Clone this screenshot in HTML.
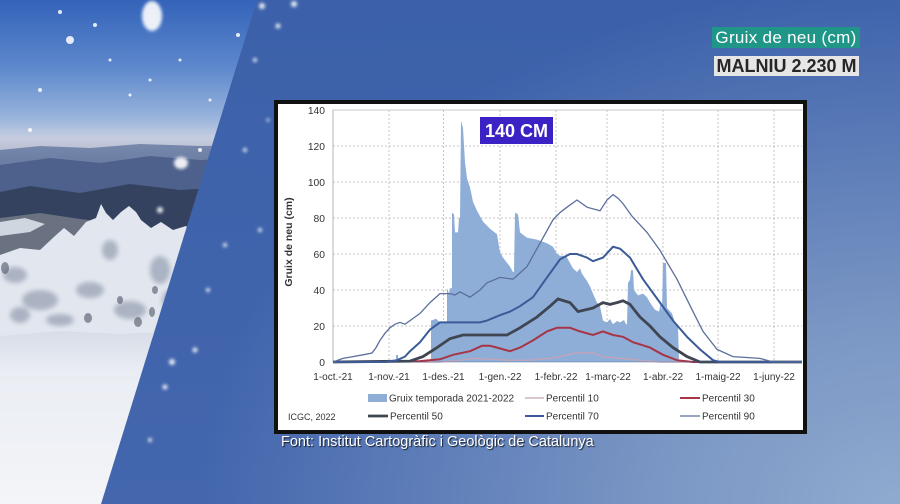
<!DOCTYPE html>
<html><head><meta charset="utf-8">
<style>
html,body{margin:0;padding:0;}
body{width:900px;height:504px;overflow:hidden;position:relative;font-family:"Liberation Sans",Arial,sans-serif;
background:radial-gradient(ellipse 700px 520px at 900px 504px,#8fabcf 0%,#7a96c4 35%,rgba(68,102,172,0) 100%),linear-gradient(180deg,#3c61aa 0%,#4366ad 100%);}
svg{position:absolute;left:0;top:0;}
.lab1{position:absolute;left:712px;top:27px;width:148px;height:21px;background:#1f9688;color:#fff;font-size:17px;line-height:21px;text-align:center;letter-spacing:0.3px;white-space:nowrap;}
.lab2{position:absolute;left:714px;top:56px;width:145px;height:20px;background:#e6e6e6;color:#262626;font-weight:bold;font-size:18px;line-height:20px;text-align:center;white-space:nowrap;}
.src{position:absolute;left:281px;top:434px;font-size:14.5px;line-height:17px;color:#fff;text-shadow:1px 1px 1px rgba(0,0,0,0.8);white-space:nowrap;}
</style></head><body>
<svg width="900" height="504" viewBox="0 0 900 504" xmlns="http://www.w3.org/2000/svg">
<defs>
<clipPath id="ph"><polygon points="0,0 257,0 101,504 0,504"/></clipPath>
<linearGradient id="sky" x1="0" y1="0" x2="0" y2="1">
<stop offset="0" stop-color="#3463b9"/><stop offset="0.45" stop-color="#5d88cc"/><stop offset="0.78" stop-color="#98b3dc"/><stop offset="0.92" stop-color="#c6cde0"/><stop offset="1" stop-color="#bcbfd2"/>
</linearGradient>
<linearGradient id="gnd" x1="0" y1="0" x2="0" y2="1">
<stop offset="0" stop-color="#d6dbe6"/><stop offset="0.25" stop-color="#eaedf3"/><stop offset="1" stop-color="#f3f5f8"/>
</linearGradient>
<linearGradient id="mt" x1="0" y1="0" x2="0" y2="1">
<stop offset="0" stop-color="#7788ad"/><stop offset="1" stop-color="#56698f"/>
</linearGradient>
<filter id="bl"><feGaussianBlur stdDeviation="1.5"/></filter>
<filter id="bl2"><feGaussianBlur stdDeviation="2.5"/></filter>
</defs>
<g clip-path="url(#ph)">
<rect x="0" y="0" width="260" height="150" fill="url(#sky)"/>
<polygon points="0,150 40,146 90,148 140,144 200,146 260,145 260,200 0,200" fill="url(#mt)"/>
<polygon points="0,165 50,158 100,163 150,156 200,160 260,158 260,230 0,230" fill="#4d618c"/>
<polygon points="0,192 30,186 80,193 130,184 180,190 230,187 260,192 260,245 0,245" fill="#34425f"/>
<polygon points="0,218 40,213 80,219 120,224 140,232 140,275 0,275" fill="#6a7282"/>
<polygon points="0,222 25,218 45,224 30,232 0,236" fill="#d0d6e0"/>
<polygon points="0,255 20,248 40,250 55,236 64,228 74,236 86,222 96,218 101,204 106,213 113,220 121,212 129,206 136,212 141,220 151,228 161,222 173,230 186,226 196,234 200,252 192,300 182,336 0,342" fill="#e2e7ef"/>
<g fill="#8e98ac" opacity="0.65" filter="url(#bl2)">
<ellipse cx="40" cy="300" rx="18" ry="10"/><ellipse cx="90" cy="290" rx="14" ry="8"/><ellipse cx="130" cy="310" rx="16" ry="9"/><ellipse cx="160" cy="270" rx="10" ry="14"/><ellipse cx="15" cy="275" rx="12" ry="8"/><ellipse cx="110" cy="250" rx="8" ry="10"/>
<ellipse cx="60" cy="320" rx="14" ry="6"/><ellipse cx="170" cy="300" rx="8" ry="10"/><ellipse cx="20" cy="315" rx="10" ry="8"/>
</g>
<g fill="#4e5566" opacity="0.6"><ellipse cx="88" cy="318" rx="4" ry="5"/><ellipse cx="138" cy="322" rx="4" ry="5"/><ellipse cx="152" cy="312" rx="3" ry="5"/><ellipse cx="5" cy="268" rx="4" ry="6"/><ellipse cx="155" cy="290" rx="3" ry="4"/><ellipse cx="120" cy="300" rx="3" ry="4"/></g>
<polygon points="0,336 60,331 120,334 200,330 260,328 260,504 0,504" fill="url(#gnd)"/>
<g fill="#fff" opacity="0.85">
<circle cx="60" cy="12" r="2"/><circle cx="95" cy="25" r="2"/><circle cx="110" cy="60" r="1.5"/><circle cx="40" cy="90" r="2"/><circle cx="130" cy="95" r="1.5"/><circle cx="30" cy="130" r="2"/><circle cx="200" cy="150" r="2"/><circle cx="210" cy="100" r="1.5"/><circle cx="238" cy="35" r="2"/><circle cx="150" cy="80" r="1.5"/><circle cx="180" cy="60" r="1.5"/><circle cx="70" cy="40" r="4"/>
</g>
</g>
<g fill="#fff" filter="url(#bl)" opacity="0.9">
<ellipse cx="152" cy="16" rx="10" ry="15"/><ellipse cx="181" cy="163" rx="7" ry="6"/><circle cx="160" cy="210" r="3"/>
<circle cx="294" cy="4" r="3"/><circle cx="278" cy="26" r="2.5"/><circle cx="262" cy="6" r="3"/>
<circle cx="255" cy="60" r="2"/><circle cx="245" cy="150" r="2"/><circle cx="260" cy="230" r="2"/><circle cx="208" cy="290" r="2"/>
<circle cx="195" cy="350" r="2.5"/><circle cx="172" cy="362" r="3"/><circle cx="165" cy="387" r="2.5"/><circle cx="150" cy="440" r="2"/><circle cx="290" cy="160" r="2"/><circle cx="268" cy="120" r="1.5"/><circle cx="225" cy="245" r="2"/>
</g>

<!-- panel -->
<rect x="276" y="102" width="529" height="330" fill="#fff" stroke="#111" stroke-width="4"/>

<!-- gridlines -->
<g stroke="#c4c4c4" stroke-width="1" stroke-dasharray="2,2" fill="none">
<line x1="333" y1="326" x2="802" y2="326"/><line x1="333" y1="290" x2="802" y2="290"/><line x1="333" y1="254" x2="802" y2="254"/>
<line x1="333" y1="218" x2="802" y2="218"/><line x1="333" y1="182" x2="802" y2="182"/><line x1="333" y1="146" x2="802" y2="146"/>
<line x1="389" y1="110" x2="389" y2="362"/><line x1="443.5" y1="110" x2="443.5" y2="362"/><line x1="500" y1="110" x2="500" y2="362"/>
<line x1="556" y1="110" x2="556" y2="362"/><line x1="607" y1="110" x2="607" y2="362"/><line x1="663" y1="110" x2="663" y2="362"/>
<line x1="718" y1="110" x2="718" y2="362"/><line x1="774" y1="110" x2="774" y2="362"/>
</g>
<line x1="333" y1="110" x2="802" y2="110" stroke="#c8c8c8" stroke-width="1"/>
<line x1="333" y1="110" x2="333" y2="362" stroke="#b5b5b5" stroke-width="1"/>

<!-- snow depth fill -->
<rect x="396" y="355" width="2" height="7" fill="#8eaed8"/>
<path fill="#8eaed8" d="M431,362 L431,320.6 L436,318.8 L440,322.4 L447,322.4 L447,288.2 L449,293.6 L450,288.2 L452,288.2 L452,212.6 L454,214.4 L455,232.4 L458,232.4 L459,218 L460,218 L461,120.8 L463,128 L465,162.2 L467,178.4 L470,187.4 L473,201.8 L477,210.8 L483,221.6 L490,228.8 L497,234.2 L500,252.2 L503,257.6 L510,266.6 L513,272 L514,272 L515,212.6 L518,214.4 L520,232.4 L527,237.8 L537,239.6 L547,243.2 L553,246.8 L557,254 L560,255.8 L566,255.8 L568,259.4 L573,268.4 L577,272 L580,268.4 L582,273.8 L587,281 L590,286.4 L593,293.6 L597,302.6 L600,306.2 L603,320.6 L607,322.4 L610,319 L613,324.2 L617,321 L620,322.4 L624,320 L626,324.2 L627,324.2 L628,282.8 L630,280 L631,270.2 L633,270.2 L634,290 L638,295.4 L643,293.6 L647,297.2 L650,302.6 L655,309.8 L659,311.6 L661,302 L662,311 L663,263 L666,263 L667,308 L672,313.4 L675,322.4 L678,326 L679,362 Z"/>

<!-- percentiles -->
<polyline fill="none" stroke="#c9a3b3" stroke-width="1.2" points="333,362 440,362 460,360.2 475,358.4 490,359.3 510,360.2 530,360.2 550,358.4 560,356.6 575,353 593,353 603,356.6 620,358.4 640,360.2 660,362 700,362"/>
<polyline fill="none" stroke="#a73545" stroke-width="2" points="333,362 420,361.1 440,359.3 453,354.8 470,351.2 482,345.8 490,345.8 497,347.6 510,351.2 520,347.6 533,340.4 547,331.4 557,327.8 570,327.8 580,331.4 593,335 603,331.4 613,335 623,336.8 633,342.2 650,347.6 663,354.8 677,360.2 693,362 802,362"/>
<polyline fill="none" stroke="#3f4652" stroke-width="2.8" points="333,362 410,361.1 423,356.6 437,347.6 450,338.6 463,335 507,335 520,327.8 537,317 550,306.2 558,299 570,302.6 578,311.6 593,308 603,302.6 610,304.4 617,302.6 623,300.8 630,304.4 640,317 650,326 660,336.8 673,347.6 687,356.6 700,362 802,362"/>
<polyline fill="none" stroke="#3a5a98" stroke-width="2" points="333,362 385,362 397,360.2 405,356.6 410,351.2 420,342.2 430,329.6 440,322.4 450,322.4 463,322.4 480,322.4 487,320.6 500,315.2 510,311.6 520,306.2 533,297.2 547,277.4 560,259.4 570,254 577,254 587,257.6 593,261.2 603,257.6 613,246.8 620,248.6 630,257.6 643,279.2 660,302.6 673,320.6 687,336.8 700,349.4 713,360.2 720,362 802,362"/>
<polyline fill="none" stroke="#5b6f9c" stroke-width="1.3" points="333,362 343,358.4 353,356.6 363,354.8 372,353 376,347.6 380,340.4 385,333.2 390,327.8 395,324.2 400,322.4 405,324.2 410,320.6 420,313.4 430,302.6 440,293.6 450,293.6 455,295 460,291.8 470,297.2 480,290 487,282.8 500,277.4 513,279.2 527,266.6 540,243.2 553,219.8 560,212.6 567,207.2 577,200 587,207.2 600,210.8 607,200 613,194.6 618,198.2 623,203.6 632,216.2 647,232.4 660,250.4 677,279.2 685,295.4 693,311.6 703,331.4 710,340.4 717,349.4 725,353 733,356.6 760,358.4 773,362 802,362"/>
<line x1="333" y1="362" x2="802" y2="362" stroke="#3a5a98" stroke-width="1" opacity="0.4"/>

<!-- axis labels -->
<g font-family="Liberation Sans, Arial, sans-serif" font-size="10.3" fill="#333" text-anchor="end">
<text x="325" y="114">140</text><text x="325" y="150">120</text><text x="325" y="186">100</text><text x="325" y="222">80</text>
<text x="325" y="258">60</text><text x="325" y="294">40</text><text x="325" y="330">20</text><text x="325" y="366">0</text>
</g>
<g font-family="Liberation Sans, Arial, sans-serif" font-size="10" fill="#333" text-anchor="middle">
<text x="333" y="380">1-oct.-21</text><text x="389" y="380">1-nov.-21</text><text x="443.5" y="380">1-des.-21</text>
<text x="500" y="380">1-gen.-22</text><text x="556" y="380">1-febr.-22</text><text x="608" y="380">1-març-22</text>
<text x="663" y="380">1-abr.-22</text><text x="718" y="380">1-maig-22</text><text x="774" y="380">1-juny-22</text>
</g>
<text transform="translate(292,242) rotate(-90)" text-anchor="middle" font-family="Liberation Sans, Arial, sans-serif" font-size="10.5" font-weight="bold" fill="#333">Gruix de neu (cm)</text>

<!-- legend -->
<rect x="368" y="394" width="19" height="8" fill="#8eaed8"/>
<line x1="525" y1="398" x2="544" y2="398" stroke="#c9a3b3" stroke-width="1.2"/>
<line x1="680" y1="398" x2="700" y2="398" stroke="#a73545" stroke-width="2"/>
<line x1="368" y1="416" x2="388" y2="416" stroke="#3f4652" stroke-width="2.8"/>
<line x1="525" y1="416" x2="544" y2="416" stroke="#3a5a98" stroke-width="2"/>
<line x1="680" y1="416" x2="700" y2="416" stroke="#5b6f9c" stroke-width="1.3"/>
<g font-family="Liberation Sans, Arial, sans-serif" font-size="10" fill="#333">
<text x="389" y="401.5">Gruix temporada 2021-2022</text><text x="546" y="401.5">Percentil 10</text><text x="702" y="401.5">Percentil 30</text>
<text x="390" y="419.5">Percentil 50</text><text x="546" y="419.5">Percentil 70</text><text x="702" y="419.5">Percentil 90</text>
<text x="288" y="420" font-size="9">ICGC, 2022</text>
</g>

<!-- 140 CM -->
<rect x="480" y="117" width="73" height="27" fill="#3b22c4"/>
<text x="516.5" y="137" text-anchor="middle" font-family="Liberation Sans, Arial, sans-serif" font-size="18" font-weight="bold" fill="#fff">140 CM</text>
</svg>
<div class="lab1">Gruix de neu (cm)</div>
<div class="lab2">MALNIU 2.230 M</div>
<div class="src">Font: Institut Cartogràfic i Geològic de Catalunya</div>
</body></html>
